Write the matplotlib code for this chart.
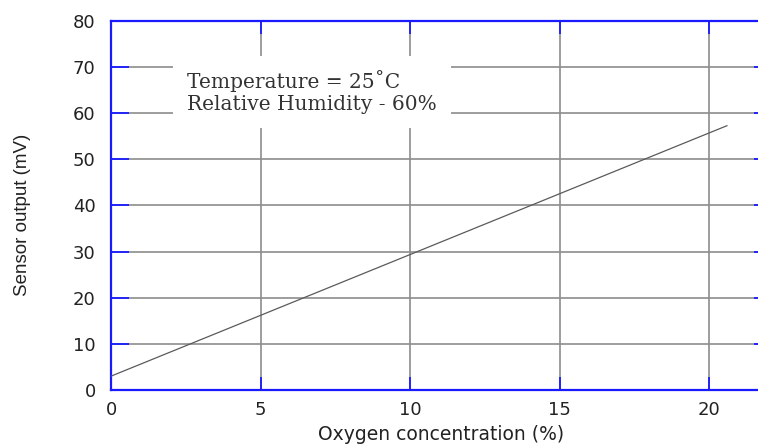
import matplotlib.pyplot as plt

# values
oxygen = [0.0, 20.6]          # %
sensor_mv = [3.0, 57.3]       # mV
x_ticks = [0, 5, 10, 15, 20]
y_ticks = [0, 10, 20, 30, 40, 50, 60, 70, 80]
note_lines = ["Temperature = 25\u02daC", "Relative Humidity - 60%"]

blue = "#1a1aff"
grid_grey = "#8c8c8c"

fig = plt.figure(figsize=(7.58, 4.48), dpi=100)
# axes run past the right edge of the picture, as in the reference
ax = fig.add_axes([111 / 758, 58 / 448, 661 / 758, 369 / 448])

ax.plot(oxygen, sensor_mv, color="#5a5a5a", linewidth=0.9, zorder=3)

ax.set_xlim(0, 661 / 29.9)
ax.set_ylim(0, 80)
ax.set_xticks(x_ticks)
ax.set_yticks(y_ticks)

ax.grid(True, color=grid_grey, linewidth=1.2)
for s in ax.spines.values():
    s.set_color(blue)
    s.set_linewidth(1.6)

ax.tick_params(axis="x", direction="in", length=9.5, width=1.3, color=blue,
               top=True, pad=8, labelsize=13, labelcolor="#222222")
ax.tick_params(axis="y", direction="in", length=13, width=1.3, color=blue,
               right=True, pad=11, labelsize=13, labelcolor="#222222")
for lab in ax.get_xticklabels() + ax.get_yticklabels():
    lab.set_family("DejaVu Sans")

ax.set_xlabel("Oxygen concentration (%)", family="DejaVu Sans", fontsize=13.5,
              color="#222222", labelpad=4)
ax.set_ylabel("Sensor output (mV)", family=["Liberation Sans Narrow", "Liberation Sans"],
              fontsize=13.5, color="#222222")
ax.yaxis.set_label_coords(-0.121, 0.474)

ax.text(2.55, 64.6, "\n".join(note_lines), family="DejaVu Serif", fontsize=14.5,
        color="#333333", linespacing=1.25, ha="left", va="center", zorder=4,
        bbox=dict(facecolor="white", edgecolor="none", pad=10))

fig.savefig("out.png", dpi=100)
